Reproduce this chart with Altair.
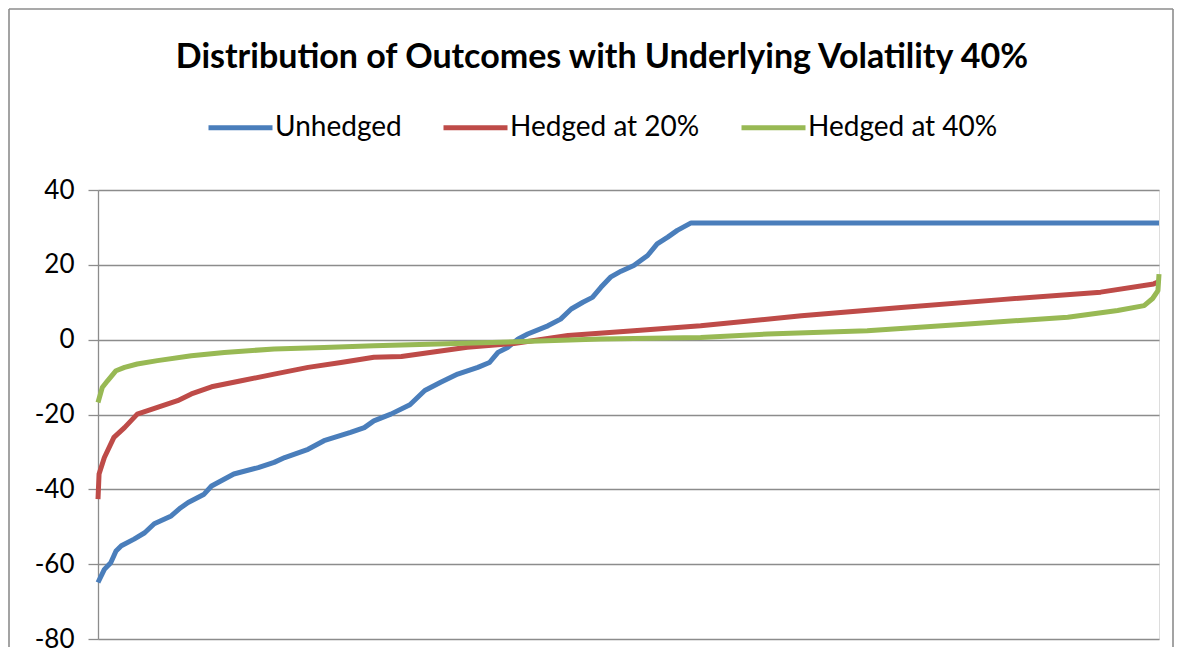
import altair as alt
import pandas as pd

title_text = "Distribution of Outcomes with Underlying Volatility 40%"
series_names = ["Unhedged", "Hedged at 20%", "Hedged at 40%"]
series_colors = ["#4A7EBB", "#BE4B48", "#98B954"]
y_ticks = [-80, -60, -40, -20, 0, 20, 40]

# sorted scenario rank (0..1000) and outcome values
unhedged_rank = [0, 6, 12, 17, 22, 34, 44, 53, 69, 78, 85, 100, 107, 128, 151, 166, 176, 198, 213,
                 238, 251, 260, 276, 294, 308, 323, 339, 358, 369, 377, 386, 396, 405, 424, 436,
                 446, 457, 466, 474, 483, 493, 505, 518, 527, 537, 546, 559, 1000]
unhedged_val = [-64.9, -61.4, -59.6, -56.5, -55.1, -53.3, -51.6, -49.2, -47.1, -44.9, -43.5, -41.3,
                -39.1, -35.9, -34.2, -32.8, -31.5, -29.3, -27.0, -24.8, -23.5, -21.7, -19.9, -17.4,
                -13.6, -11.4, -9.2, -7.4, -6.1, -3.4, -2.1, 0.2, 1.5, 3.7, 5.5, 8.2, 10.0, 11.3,
                14.0, 16.7, 18.3, 19.8, 22.5, 25.6, 27.4, 29.2, 31.2, 31.2]

hedged20_rank = [0, 1, 6, 15, 25, 37, 56, 75, 88, 107, 135, 166, 198, 229, 260, 286, 348, 392,
                 443, 505, 568, 663, 757, 851, 945, 995, 1000]
hedged20_val = [-42.6, -35.9, -31.5, -26.1, -23.5, -19.9, -18.1, -16.3, -14.5, -12.6, -11.0, -9.2,
                -7.4, -6.1, -4.7, -4.5, -2.0, -1.0, 1.1, 2.4, 3.7, 6.4, 8.6, 10.7, 12.7, 14.9, 15.5]

hedged40_rank = [0, 4, 9, 17, 25, 37, 56, 88, 119, 166, 213, 260, 286, 380, 474, 568, 631, 725,
                 820, 914, 961, 986, 994, 999, 1000]
hedged40_val = [-16.8, -12.8, -11.0, -8.3, -7.4, -6.5, -5.6, -4.3, -3.4, -2.5, -2.1, -1.6, -1.4,
                -0.7, 0.2, 0.6, 1.5, 2.4, 4.2, 6.0, 7.8, 9.1, 11.0, 13.1, 17.5]

rows = []
for name, xs, ys in [
    (series_names[0], unhedged_rank, unhedged_val),
    (series_names[1], hedged20_rank, hedged20_val),
    (series_names[2], hedged40_rank, hedged40_val),
]:
    for i, (x, y) in enumerate(zip(xs, ys)):
        rows.append({"series": name, "rank": x, "value": y, "idx": i})
df = pd.DataFrame(rows)

W, H = 1061, 449
GRAY = "#8c8c8c"
FONT = "Lato"

lines = alt.Chart(df).mark_line(strokeWidth=5, strokeJoin="round").encode(
    x=alt.X("rank:Q", scale=alt.Scale(domain=[0, 1000], nice=False, zero=False), axis=None),
    y=alt.Y("value:Q", scale=alt.Scale(domain=[-80, 40], nice=False),
            axis=alt.Axis(values=y_ticks, title=None, labelFont=FONT, labelFontSize=26,
                          labelExpr="'' + datum.value",
                          labelColor="black", labelPadding=14, tickSize=10, tickColor=GRAY,
                          tickWidth=1.3, domainColor=GRAY, domainWidth=1.3, grid=True,
                          gridColor=GRAY, gridWidth=1.3, gridOpacity=1)),
    color=alt.Color("series:N", sort=series_names,
                    scale=alt.Scale(domain=series_names, range=series_colors),
                    legend=alt.Legend(title=None, orient="none", legendX=108, legendY=-97,
                                      direction="horizontal", symbolType="stroke",
                                      symbolSize=4096, symbolStrokeWidth=5,
                                      labelFont=FONT, labelFontSize=28, labelColor="black",
                                      labelLimit=400, labelOffset=0, columnPadding=31,
                                      padding=0)),
    order=alt.Order("idx:Q"),
)

title = alt.Chart(alt.Data(values=[{"t": title_text}])).mark_text(
    font=FONT, fontWeight="bold", fontSize=34, align="center", baseline="alphabetic",
    color="black").encode(x=alt.value(504), y=alt.value(-122), text="t:N")

frame_data = alt.Data(values=[{"k": 1}])
frame_left = alt.Chart(frame_data).mark_rule(color=GRAY, strokeWidth=1.6).encode(
    x=alt.value(-89), y=alt.value(-181), y2=alt.value(H + 8))
frame_right = alt.Chart(frame_data).mark_rule(color=GRAY, strokeWidth=1.6).encode(
    x=alt.value(1075), y=alt.value(-181), y2=alt.value(H + 8))
frame_top = alt.Chart(frame_data).mark_rule(color=GRAY, strokeWidth=1.6).encode(
    x=alt.value(-89), x2=alt.value(1075), y=alt.value(-181))

chart = alt.layer(lines, title, frame_left, frame_right, frame_top).properties(
    width=W, height=H, padding=0
).configure_view(stroke=None).configure(background="white")

chart.save("out.html", embed_options={"renderer": "svg", "actions": False})
